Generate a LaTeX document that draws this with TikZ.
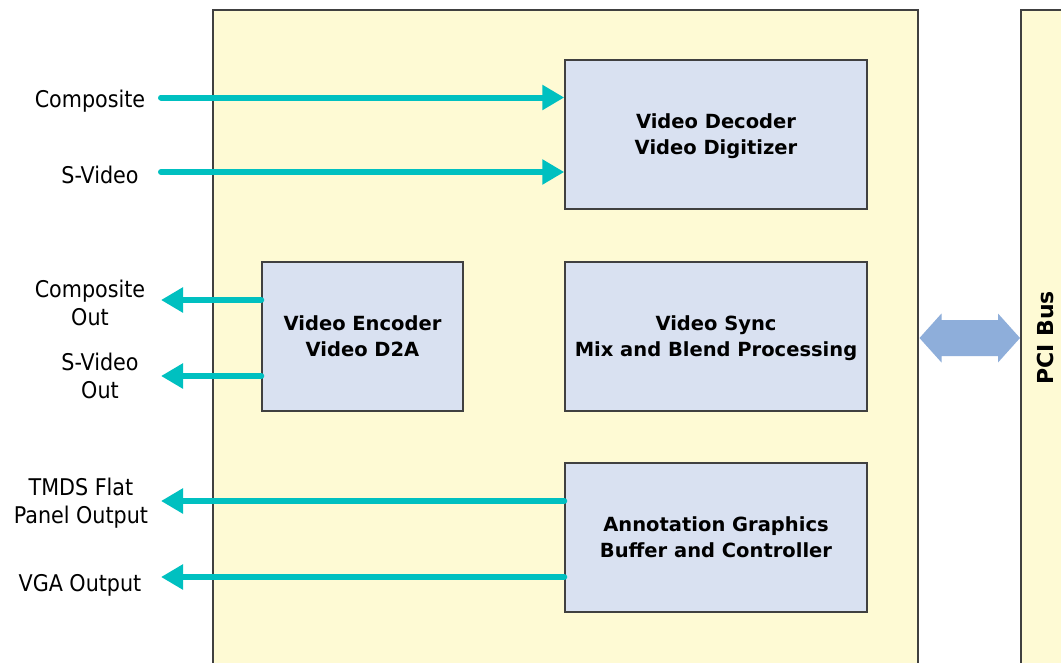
\documentclass[tikz,border=0pt]{standalone}
\usepackage{fontspec}
\setmainfont{DejaVu Sans Condensed}
\newfontfamily\boxfont{DejaVu Sans}
\usetikzlibrary{arrows.meta,calc}
\definecolor{bgyellow}{HTML}{FEFAD4}
\definecolor{boxblue}{HTML}{D9E1F1}
\definecolor{sigteal}{HTML}{00C0C0}
\definecolor{busblue}{HTML}{8EAEDA}
\definecolor{edgegray}{HTML}{404040}
\begin{document}
\begin{tikzpicture}[x=1pt,y=-1pt,
  panel/.style={draw=edgegray, line width=1.5pt, fill=bgyellow, inner sep=0pt, anchor=north west},
  blk/.style={draw=edgegray, line width=1.5pt, fill=boxblue, minimum width=302pt, minimum height=149pt, inner sep=0pt, text depth=-4pt, align=center, font=\boxfont\bfseries\fontsize{19.5}{26}\selectfont},
  lbl/.style={align=center, inner sep=0pt, font=\fontsize{23}{28}\selectfont},
  sig/.style={draw=sigteal, line width=6pt, line cap=round, -{Triangle[length=22pt,width=24pt]}},
  bus/.style={fill=busblue},
  ]
\path[use as bounding box, clip] (0,0) rectangle (1061,662);
\fill[white] (0,0) rectangle (1061,662);

% panels
\node[panel, minimum width=705pt, minimum height=700pt] (main) at (212,9) {};
\node[panel, minimum width=100pt, minimum height=700pt] (pci) at (1020,9) {};
\node[rotate=90, inner sep=0pt, font=\boxfont\bfseries\fontsize{22}{26}\selectfont] (pcilbl) at (1045,338) {PCI Bus};

% blocks
\node[blk] (dec) at (716,134.5) {Video Decoder\\Video Digitizer};
\node[blk, minimum width=201pt] (enc) at (362.5,336.5) {Video Encoder\\Video D2A};
\node[blk] (sync) at (716,336.5) {Video Sync\\Mix and Blend Processing};
\node[blk] (ann) at (716,537.5) {Annotation Graphics\\Buffer and Controller};

% labels
\node[lbl] (lcomp) at (90,101) {Composite};
\node[lbl] (lsvid) at (100,175) {S-Video};
\node[lbl] (lcout) at (90,303) {Composite\\Out};
\node[lbl] (lsout) at (100,376) {S-Video\\Out};
\node[lbl] (ltmds) at (81,503) {TMDS Flat\\Panel Output};
\node[lbl] (lvga) at (80,585) {VGA Output};

% signal coordinates
\coordinate (cin) at (161,97.5);
\coordinate (sin) at (161,172);
\coordinate (cout) at (161,300);
\coordinate (sout) at (161,376);
\coordinate (tmds) at (161,501);
\coordinate (vga) at (161,577);

\draw[sig] (cin) -- (cin -| dec.west);
\draw[sig] (sin) -- (sin -| dec.west);
\draw[sig] (cout -| enc.west) -- (cout);
\draw[sig] (sout -| enc.west) -- (sout);
\draw[sig] (tmds -| ann.west) -- (tmds);
\draw[sig] (vga -| ann.west) -- (vga);

% bus double arrow
\coordinate (bl) at ($(main.east |- 0,338)+(1,0)$);
\coordinate (br) at (pci.west |- 0,338);
\fill[bus] (bl) -- ++(22,-24.5) -- ++(0,6.5) -- ($(br)+(-22,-18)$) -- ++(0,-6.5) -- (br)
  -- ++(-22,24.5) -- ++(0,-6.5) -- ($(bl)+(22,18)$) -- ++(0,6.5) -- cycle;
\end{tikzpicture}
\end{document}
